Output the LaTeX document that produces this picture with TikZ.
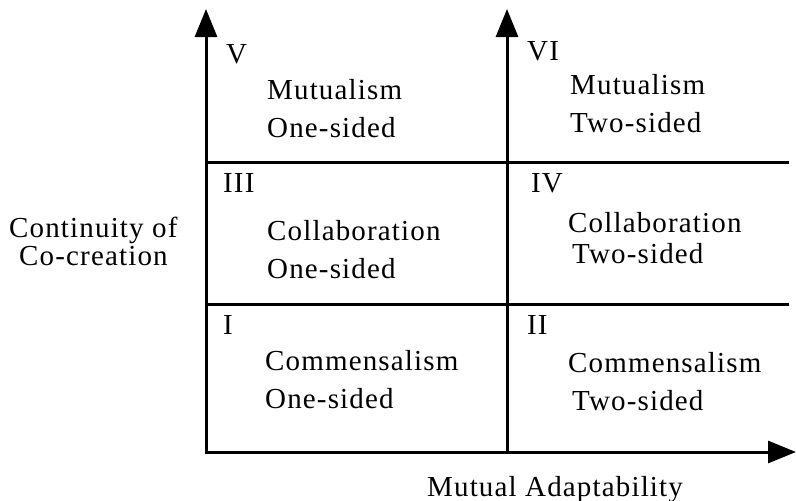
\documentclass[tikz,border=0pt]{standalone}
\usepackage{fontspec}
\setmainfont{Liberation Serif}[LetterSpace=4]
\usetikzlibrary{arrows.meta}
\begin{document}
\begin{tikzpicture}[x=1pt,y=-1pt,
  head/.tip={Triangle[length=28pt,width=22pt]},
  axis/.style={line width=3pt,line join=miter},
  gridline/.style={line width=3pt},
  lbl/.style={anchor=base west,inner sep=0pt,font=\fontsize{29}{34}\selectfont}]
\useasboundingbox (0,0) rectangle (796,501);

% axes and grid
\coordinate (ytop) at (206,9);
\coordinate (origin) at (206,452);
\coordinate (xend) at (796,452);
\coordinate (midtop) at (507,9);
\coordinate (midbot) at (507,452);
\coordinate (lowW) at (206,304);
\coordinate (lowE) at (789,304);
\coordinate (upW) at (206,162);
\coordinate (upE) at (789,162);

\draw[axis,head-head] (ytop) -- (origin) -- (xend);
\draw[axis,-head] (midbot) -- (midtop);
\draw[gridline] (lowW) -- (lowE);
\draw[gridline] (upW) -- (upE);

% cell V
\node[lbl] (n5) at (226,63) {V};
\node[lbl] (t5a) at (267,99) {Mutualism};
\node[lbl] (t5b) at (267,137) {One-sided};
% cell VI
\node[lbl] (n6) at (527,60) {VI};
\node[lbl] (t6a) at (570,94) {Mutualism};
\node[lbl] (t6b) at (570,132) {Two-sided};
% cell III
\node[lbl] (n3) at (223,192) {III};
\node[lbl] (t3a) at (267,240) {Collaboration};
\node[lbl] (t3b) at (267,278) {One-sided};
% cell IV
\node[lbl] (n4) at (531,192) {IV};
\node[lbl] (t4a) at (568,232) {Collaboration};
\node[lbl] (t4b) at (572,263) {Two-sided};
% cell I
\node[lbl] (n1) at (223,334) {I};
\node[lbl] (t1a) at (265,370) {Commensalism};
\node[lbl] (t1b) at (265,408) {One-sided};
% cell II
\node[lbl] (n2) at (527,334) {II};
\node[lbl] (t2a) at (568,372) {Commensalism};
\node[lbl] (t2b) at (572,410) {Two-sided};

% axis titles
\node[lbl] (ya) at (9,237) {Continuity of};
\node[lbl] (yb) at (19,265) {Co-creation};
\node[lbl] (xa) at (427,496) {Mutual Adaptability};
\end{tikzpicture}
\end{document}
